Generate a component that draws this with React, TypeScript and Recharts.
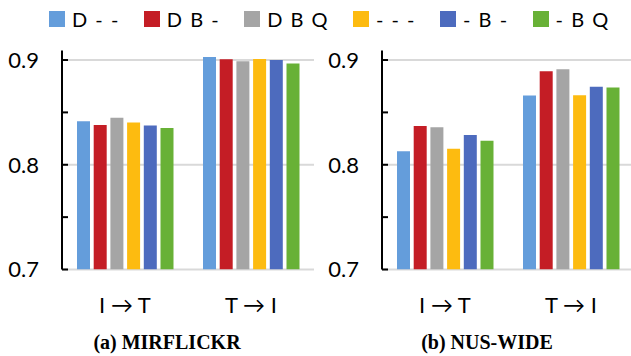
import React from "react";
import { BarChart, Bar, XAxis, YAxis, CartesianGrid } from "recharts";

const categories = ["I → T", "T → I"];
const seriesNames = ["D - -", "D B -", "D B Q", "- - -", "- B -", "- B Q"];
const seriesKeys = ["s0", "s1", "s2", "s3", "s4", "s5"];
const seriesColors = ["#649ddb", "#c41d25", "#a5a5a5", "#fdbb10", "#4d6bbe", "#68b136"];

const mirflickrIT = [0.8415, 0.838, 0.8448, 0.8403, 0.8374, 0.8352];
const mirflickrTI = [0.903, 0.9007, 0.8988, 0.901, 0.9, 0.8968];
const nuswideIT = [0.8128, 0.8371, 0.8358, 0.8153, 0.8285, 0.823];
const nuswideTI = [0.8661, 0.8892, 0.8911, 0.8664, 0.8745, 0.8738];

const yTicks = [0.7, 0.75, 0.8, 0.85, 0.9];
const yLabels = [0.7, 0.8, 0.9];
const gridValues = [0.7, 0.8, 0.9];
const yDomain = [0.7, 0.9091];

const titles = ["(a) MIRFLICKR", "(b) NUS-WIDE"];

const buildRows = (groups: number[][]) =>
  categories.map((cat, i) => {
    const row: Record<string, any> = { cat };
    seriesKeys.forEach((k, j) => {
      row[k] = groups[i][j];
    });
    return row;
  });

const FONT = "Lato, 'Open Sans', sans-serif";

const YTick = (props: any) => {
  const { x, y, payload } = props;
  const v = payload.value;
  const showLabel = yLabels.some((l) => Math.abs(l - v) < 1e-9);
  return (
    <g>
      <line x1={x} x2={x + 6} y1={y} y2={y} stroke="#000" strokeWidth={2} />
      {showLabel && (
        <text x={x - 23} y={y} dy="0.36em" textAnchor="end" fontSize={22} fontFamily={FONT} fill="#000">
          {v.toFixed(1)}
        </text>
      )}
    </g>
  );
};

const XTick = (props: any) => {
  const { x, y, payload } = props;
  return (
    <text x={x} y={y + 43.5} textAnchor="middle" fontSize={22} fontFamily={FONT} fill="#000">
      {payload.value}
    </text>
  );
};

const Panel = ({ data }: { data: any[] }) => (
  <BarChart
    width={314}
    height={356}
    data={data}
    margin={{ top: 50.5, right: 0, bottom: 36.5, left: 0 }}
    barSize={13}
    barGap={3.7}
  >
    <CartesianGrid vertical={false} stroke="#d9d9d9" strokeWidth={2} horizontalValues={gridValues} />
    <XAxis
      dataKey="cat"
      axisLine={false}
      tickLine={false}
      tickSize={0}
      tickMargin={0}
      height={50}
      tick={<XTick />}
      interval={0}
    />
    <YAxis
      type="number"
      domain={yDomain}
      ticks={yTicks}
      allowDataOverflow
      width={62}
      axisLine={{ stroke: "#000", strokeWidth: 2 }}
      tickLine={false}
      tickSize={0}
      tickMargin={0}
      tick={<YTick />}
      interval={0}
    />
    {seriesKeys.map((k, i) => (
      <Bar key={k} dataKey={k} name={seriesNames[i]} fill={seriesColors[i]} isAnimationActive={false} />
    ))}
  </BarChart>
);

export default function App() {
  const left = buildRows([mirflickrIT, mirflickrTI]);
  const right = buildRows([nuswideIT, nuswideTI]);
  return (
    <div
      style={{
        position: "absolute",
        left: 0,
        top: 0,
        width: 631,
        height: 356,
        overflow: "hidden",
        background: "#fff",
      }}
    >
      <div
        style={{
          position: "absolute",
          left: 49,
          top: 0,
          height: 38,
          display: "flex",
          alignItems: "center",
          gap: 24,
          fontFamily: FONT,
          fontSize: 20,
          letterSpacing: 1.5,
          color: "#000",
          whiteSpace: "pre",
        }}
      >
        {seriesNames.map((n, i) => (
          <div key={n} style={{ display: "flex", alignItems: "center" }}>
            <div style={{ width: 16, height: 16, background: seriesColors[i], marginRight: 7 }} />
            <span>{n}</span>
          </div>
        ))}
      </div>
      <div style={{ position: "absolute", left: 0, top: 0 }}>
        <Panel data={left} />
      </div>
      <div style={{ position: "absolute", left: 320, top: 0 }}>
        <Panel data={right} />
      </div>
      <svg width={631} height={356} style={{ position: "absolute", left: 0, top: 0, pointerEvents: "none" }}>
        <text x={167} y={349} textAnchor="middle" fontSize={20} fontWeight="bold" fontFamily="'Liberation Serif', serif" fill="#000">
          {titles[0]}
        </text>
        <text x={487} y={349} textAnchor="middle" fontSize={20} fontWeight="bold" fontFamily="'Liberation Serif', serif" fill="#000">
          {titles[1]}
        </text>
      </svg>
    </div>
  );
}
